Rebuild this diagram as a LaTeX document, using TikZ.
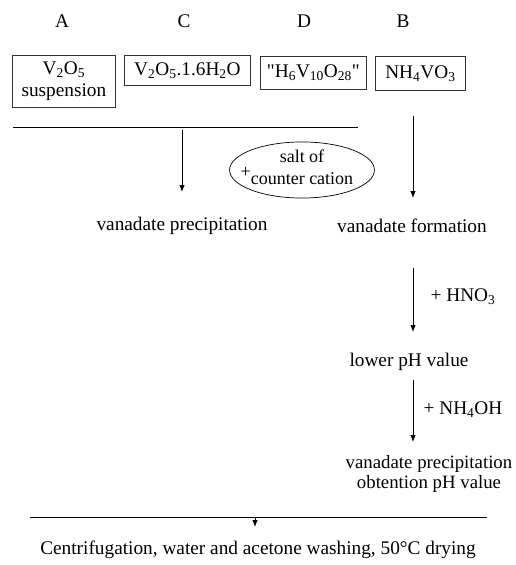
\documentclass[tikz,border=0pt]{standalone}
\usepackage{fontspec}
\setmainfont{Liberation Serif}
\usetikzlibrary{arrows.meta,shapes.geometric}
\begin{document}
\begin{tikzpicture}[x=1pt,y=-1pt,
  every node/.style={font=\fontsize{19.3}{20}\selectfont, inner sep=0pt},
  box/.style={draw=black!80, line width=0.8pt, minimum height=30pt, align=center},
  arr/.style={line width=0.8pt, -{Latex[length=7pt,width=5.5pt]}},
  rule/.style={line width=0.8pt}]
\useasboundingbox (0,0) rectangle (516,565);
% column letters
\node (la) at (62,21) {A};
\node (lc) at (184,21) {C};
\node (ld) at (304,21) {D};
\node (lb) at (403,21) {B};
% boxes
\node[box, minimum width=103pt, minimum height=52pt, anchor=north west,
      font=\fontsize{19.3}{22}\selectfont] (ba) at (12,55)
  {V\textsubscript{2}O\textsubscript{5}\\suspension};
\node[box, minimum width=126pt, anchor=north west] (bc) at (124,55)
  {V\textsubscript{2}O\textsubscript{5}.1.6H\textsubscript{2}O};
\node[box, minimum width=106pt, minimum height=33pt, anchor=north west] (bd) at (260,56)
  {\textquotedbl H\textsubscript{6}V\textsubscript{10}O\textsubscript{28}\textquotedbl};
\node[box, minimum width=90pt, minimum height=34pt, anchor=north west] (bb) at (375,56)
  {NH\textsubscript{4}VO\textsubscript{3}};
% top rule and arrows
\coordinate (r1a) at (13,127);
\coordinate (r1b) at (358,127);
\draw[rule] (r1a) -- (r1b);
\coordinate (p1) at (182,130);
\node (vp) at (182,226) {vanadate precipitation};
\draw[arr] (p1) -- (182,192);
\node[draw, ellipse, line width=0.7pt, minimum width=143pt, minimum height=36pt, inner sep=0pt,
      font=\fontsize{18}{18}\selectfont] (salt) at (302,170)
  {\begin{tabular}{@{}c@{}}salt of\\[-1pt]\llap{\raisebox{7pt}{+}}counter cation\end{tabular}};
\coordinate (p2) at (413,116);
\node (vf) at (412,226) {vanadate formation};
\draw[arr] (p2) -- (413,198);
\node (lp) at (409,362) {lower pH value};
\draw[arr] (413,268) -- (413,332);
\node (hno) at (463,297) {+ HNO\textsubscript{3}};
\node[align=center, font=\fontsize{18.8}{20}\selectfont] (vpp) at (429,474)
  {vanadate precipitation\\obtention pH value};
\draw[arr] (413,380) -- (413,442);
\node (nh) at (463,410) {+ NH\textsubscript{4}OH};
% bottom rule
\coordinate (r2a) at (30,517);
\coordinate (r2b) at (487,517);
\draw[rule] (r2a) -- (r2b);
\node (fin) at (258,550) {Centrifugation, water and acetone washing, 50°C drying};
\draw[arr] (255,517) -- (255,527);
\end{tikzpicture}
\end{document}
